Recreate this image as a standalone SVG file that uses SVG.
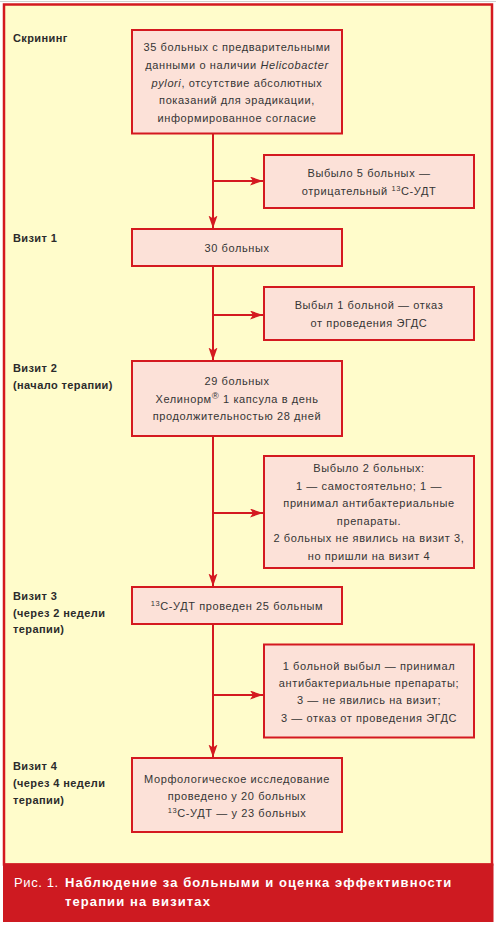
<svg xmlns="http://www.w3.org/2000/svg" width="496" height="926" viewBox="0 0 496 926">
<defs>
<style>
.box{fill:#FCE1D8;stroke:#D41920;stroke-width:2}
.t{font-family:"Liberation Sans",Arial,sans-serif;font-size:11px;letter-spacing:0.6px;fill:#353535;text-anchor:middle}
.lbl{font-family:"Liberation Sans",Arial,sans-serif;font-size:11px;font-weight:bold;letter-spacing:0.4px;fill:#2b2b2b}
.ln{stroke:#D41920;stroke-width:2;fill:none}
.sup{font-size:7.5px}
.cap{font-family:"Liberation Sans",Arial,sans-serif;font-size:13px;fill:#fff}
</style>
<marker id="ah" markerUnits="userSpaceOnUse" markerWidth="14" markerHeight="10" refX="13" refY="4.5" orient="auto">
<path d="M0,0 L13,4.5 L0,9 L3,4.5 z" fill="#D41920"/>
</marker>
</defs>
<rect x="0" y="0" width="496" height="926" fill="#fff"/>
<line x1="0" y1="1.5" x2="496" y2="1.5" stroke="#d0d0d0" stroke-width="1"/>
<rect x="4" y="4.5" width="488" height="860" fill="#FFFCCB" stroke="#D41920" stroke-width="2.5"/>
<g id="labels">
<text class="lbl" x="13" y="42">Скрининг</text>
<text class="lbl" x="13" y="242">Визит 1</text>
<text class="lbl" x="13" y="372">Визит 2</text>
<text class="lbl" x="13" y="388.5">(начало терапии)</text>
<text class="lbl" x="13" y="600">Визит 3</text>
<text class="lbl" x="13" y="616.5">(через 2 недели</text>
<text class="lbl" x="13" y="633">терапии)</text>
<text class="lbl" x="13" y="769.5">Визит 4</text>
<text class="lbl" x="13" y="786.5">(через 4 недели</text>
<text class="lbl" x="13" y="803.5">терапии)</text>
</g>
<g id="connectors">
<line class="ln" x1="213" y1="134" x2="213" y2="228.5" marker-end="url(#ah)"/>
<line class="ln" x1="213" y1="181" x2="263" y2="181" marker-end="url(#ah)"/>
<line class="ln" x1="213" y1="266" x2="213" y2="360.5" marker-end="url(#ah)"/>
<line class="ln" x1="213" y1="315" x2="263" y2="315" marker-end="url(#ah)"/>
<line class="ln" x1="213" y1="436" x2="213" y2="586.5" marker-end="url(#ah)"/>
<line class="ln" x1="213" y1="513" x2="263" y2="513" marker-end="url(#ah)"/>
<line class="ln" x1="213" y1="624" x2="213" y2="757.5" marker-end="url(#ah)"/>
<line class="ln" x1="213" y1="695" x2="263" y2="695" marker-end="url(#ah)"/>
</g>
<g id="n1">
<rect class="box" x="132" y="30" width="210" height="103.5"/>
<text class="t" x="237" y="51">35 больных с предварительными</text>
<text class="t" x="237" y="68.5">данными о наличии <tspan font-style="italic">Helicobacter</tspan></text>
<text class="t" x="237" y="86.5"><tspan font-style="italic">pylori</tspan>, отсутствие абсолютных</text>
<text class="t" x="237" y="104">показаний для эрадикации,</text>
<text class="t" x="237" y="121.5">информированное согласие</text>
</g>
<g id="n2">
<rect class="box" x="264" y="155" width="210" height="53"/>
<text class="t" x="369" y="177">Выбыло 5 больных —</text>
<text class="t" x="369" y="195">отрицательный <tspan class="sup" dy="-4">13</tspan><tspan dy="4">С-УДТ</tspan></text>
</g>
<g id="n3">
<rect class="box" x="132" y="229" width="210" height="37"/>
<text class="t" x="237" y="251.5">30 больных</text>
</g>
<g id="n4">
<rect class="box" x="264" y="287" width="210" height="53"/>
<text class="t" x="369" y="308.5">Выбыл 1 больной — отказ</text>
<text class="t" x="369" y="326.5">от проведения ЭГДС</text>
</g>
<g id="n5">
<rect class="box" x="132" y="361" width="210" height="75"/>
<text class="t" x="237" y="385">29 больных</text>
<text class="t" x="237" y="403">Хелинорм<tspan font-size="9.5px" dy="-4">®</tspan><tspan dy="4"> 1 капсула в день</tspan></text>
<text class="t" x="237" y="420">продолжительностью 28 дней</text>
</g>
<g id="n6">
<rect class="box" x="264" y="456" width="210" height="112"/>
<text class="t" x="369" y="471.5">Выбыло 2 больных:</text>
<text class="t" x="369" y="489.5">1 — самостоятельно; 1 —</text>
<text class="t" x="369" y="507">принимал антибактериальные</text>
<text class="t" x="369" y="524.5">препараты.</text>
<text class="t" x="369" y="542">2 больных не явились на визит 3,</text>
<text class="t" x="369" y="560">но пришли на визит 4</text>
</g>
<g id="n7">
<rect class="box" x="132" y="587" width="210" height="37"/>
<text class="t" x="237" y="610"><tspan class="sup" dy="-4">13</tspan><tspan dy="4">С-УДТ проведен 25 больным</tspan></text>
</g>
<g id="n8">
<rect class="box" x="264" y="644.5" width="210" height="93"/>
<text class="t" x="369" y="669.5">1 больной выбыл — принимал</text>
<text class="t" x="369" y="687">антибактериальные препараты;</text>
<text class="t" x="369" y="704">3 — не явились на визит;</text>
<text class="t" x="369" y="721.5">3 — отказ от проведения ЭГДС</text>
</g>
<g id="n9">
<rect class="box" x="132" y="758" width="210" height="74"/>
<text class="t" x="237" y="782.5">Морфологическое исследование</text>
<text class="t" x="237" y="800">проведено у 20 больных</text>
<text class="t" x="237" y="817"><tspan class="sup" dy="-4">13</tspan><tspan dy="4">С-УДТ — у 23 больных</tspan></text>
</g>
<g id="caption">
<rect x="3" y="863.5" width="490.5" height="58.5" fill="#CE1A21"/>
<text class="cap" x="14" y="887" letter-spacing="0.6">Рис. 1.</text>
<text class="cap" x="65" y="887" font-weight="bold" letter-spacing="1.1">Наблюдение за больными и оценка эффективности</text>
<text class="cap" x="65" y="906" font-weight="bold" letter-spacing="1.1">терапии на визитах</text>
</g>
</svg>
